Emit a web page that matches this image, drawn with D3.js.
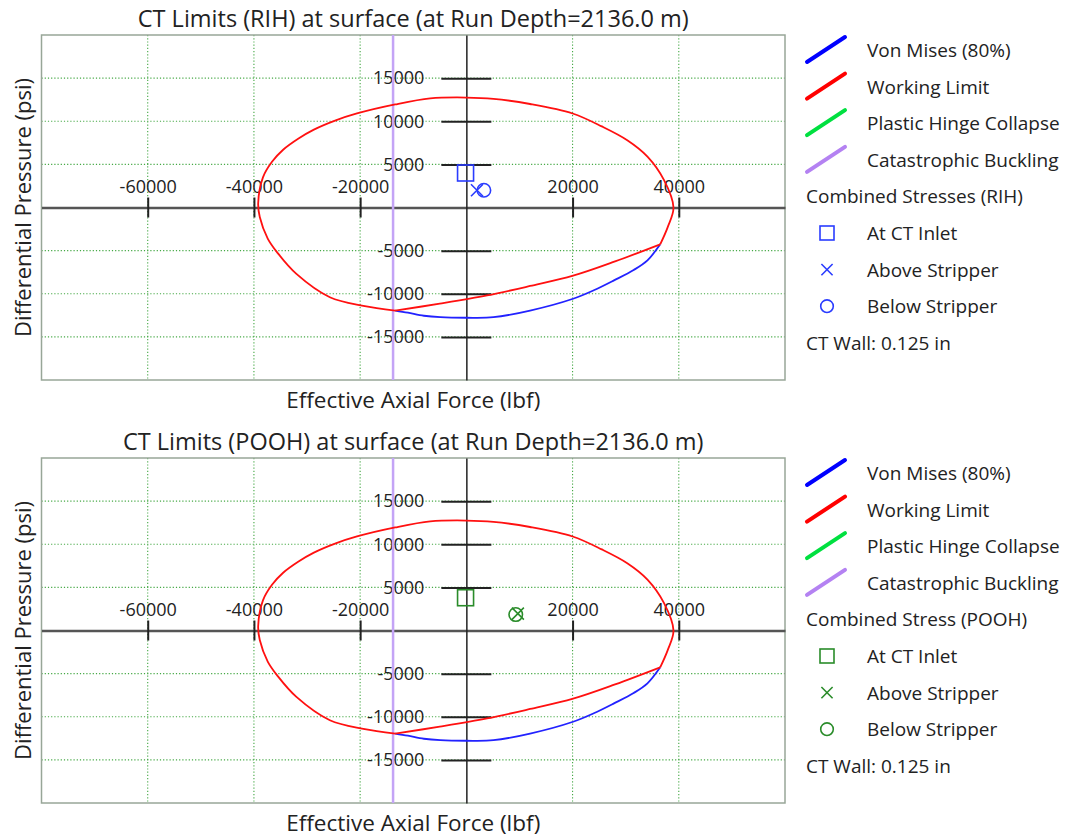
<!DOCTYPE html>
<html>
<head>
<meta charset="utf-8">
<script src="https://cdn.jsdelivr.net/npm/d3@7"></script>
<style>
  body { margin: 0; background: #fff; }
  text { font-family: "Open Sans", "Noto Sans", sans-serif; fill: #222; }
</style>
</head>
<body>
<svg id="chart" width="1067" height="836"></svg>
<script>
// Axis ranges and ticks
const xDomain = [-80000, 60000];          // effective axial force, lbf
const yDomain = [-20000, 20000];          // differential pressure, psi
const xTicks = [-60000, -40000, -20000, 20000, 40000];
const yTicks = [-15000, -10000, -5000, 5000, 10000, 15000];

// Catastrophic buckling force (vertical limit line), lbf
const bucklingForce = -13800;

// Working limit envelope: elliptical arc, running clockwise from the lower-left corner
const workingLimitArc = [
  [-13400, -11950], [-19400, -11400], [-25700, -10400], [-32000, -7700],
  [-35500, -5300], [-37400, -3600], [-38900, -1100], [-39200, 500],
  [-38300, 3500], [-36600, 5300], [-34500, 6700], [-31600, 8000],
  [-28800, 9000], [-24600, 10100], [-20600, 10900], [-13400, 11950],
  [-6800, 12650], [0, 12750], [5100, 12600], [12000, 12000],
  [20000, 10900], [25500, 9400], [30300, 7800], [34100, 5900],
  [37200, 3200], [39000, 0], [37900, -2300], [36500, -4270]
];
// Working limit envelope: lower cut-off from the right corner back to the lower-left corner
const workingLimitCut = [
  [36500, -4270], [28000, -6250], [20100, -7900], [12000, -9100],
  [3900, -10200], [-5000, -11150], [-13400, -11950]
];
// Von Mises (80%) lower arc, where it lies outside the working limit
const vonMises80 = [
  [-13400, -11950], [-11000, -12200], [-8000, -12550], [-4900, -12720],
  [0, -12780], [5100, -12720], [12000, -11950], [20100, -10580],
  [24000, -9600], [27800, -8450], [31500, -7250], [34100, -6130],
  [36500, -4270]
];

// Combined stresses at the surface
const stressLabels = ["At CT Inlet", "Above Stripper", "Below Stripper"];
const stressShapes = ["square", "cross", "circle"];
const rihForce = [-150, 2000, 3300];
const rihPressure = [4000, 2000, 2000];
const poohForce = [-150, 9700, 9300];
const poohPressure = [3800, 1950, 1850];

// Legend entries for the limit curves
const limitNames = ["Von Mises (80%)", "Working Limit", "Plastic Hinge Collapse", "Catastrophic Buckling"];
const limitColors = ["#0000ff", "#ff0000", "#00e040", "#b482f2"];

const panels = [
  { title: "CT Limits (RIH) at surface (at Run Depth=2136.0 m)",
    group: "Combined Stresses (RIH)", force: rihForce, pressure: rihPressure,
    color: "#2a3cff", top: 0 },
  { title: "CT Limits (POOH) at surface (at Run Depth=2136.0 m)",
    group: "Combined Stress (POOH)", force: poohForce, pressure: poohPressure,
    color: "#2a8c2a", top: 423 }
];

const svg = d3.select("#chart");
const plot = { left: 41.5, right: 785, top: 35, bottom: 380 };

const x = d3.scaleLinear().domain(xDomain).range([plot.left, plot.right]);
const y = d3.scaleLinear().domain(yDomain).range([plot.bottom, plot.top]);

const line = d3.line().x(d => x(d[0])).y(d => y(d[1])).curve(d3.curveCatmullRom.alpha(0.5));

function marker(sel, shape, cx, cy, color, size) {
  const h = size / 2;
  if (shape === "square") {
    sel.append("rect").attr("x", cx - h).attr("y", cy - h).attr("width", size).attr("height", size)
      .attr("fill", "none").attr("stroke", color).attr("stroke-width", 1.6);
  } else if (shape === "cross") {
    const k = h * 0.8;
    sel.append("path").attr("d", `M${cx - k},${cy - k}L${cx + k},${cy + k}M${cx - k},${cy + k}L${cx + k},${cy - k}`)
      .attr("fill", "none").attr("stroke", color).attr("stroke-width", 1.6);
  } else {
    sel.append("circle").attr("cx", cx).attr("cy", cy).attr("r", h * 0.9)
      .attr("fill", "none").attr("stroke", color).attr("stroke-width", 1.6);
  }
}

panels.forEach(p => {
  const g = svg.append("g").attr("transform", `translate(0,${p.top})`);

  // Title
  g.append("text").attr("x", (plot.left + plot.right) / 2).attr("y", 18)
    .attr("text-anchor", "middle").attr("dominant-baseline", "central")
    .style("font-size", "23.5px").text(p.title);

  // Grid
  const grid = g.append("g");
  grid.selectAll("line.v").data(xTicks).join("line")
    .attr("x1", d => x(d)).attr("x2", d => x(d)).attr("y1", plot.top).attr("y2", plot.bottom)
    .attr("stroke", "#45a845").attr("stroke-width", 1.1).attr("stroke-dasharray", "1.2,2");
  grid.selectAll("line.h").data(yTicks).join("line")
    .attr("x1", plot.left).attr("x2", plot.right).attr("y1", d => y(d)).attr("y2", d => y(d))
    .attr("stroke", "#45a845").attr("stroke-width", 1.1).attr("stroke-dasharray", "1.2,2");

  // Frame
  g.append("rect").attr("x", plot.left).attr("y", plot.top)
    .attr("width", plot.right - plot.left).attr("height", plot.bottom - plot.top)
    .attr("fill", "none").attr("stroke", "#98a698").attr("stroke-width", 1.5);

  // X axis through zero pressure, labels above the line
  const gx = g.append("g").attr("transform", `translate(0,${y(0)})`)
    .call(d3.axisTop(x).tickValues(xTicks).tickSize(0).tickSizeOuter(0).tickPadding(15)
      .tickFormat(d => String(d)));
  gx.select(".domain").attr("stroke", "#555").attr("stroke-width", 2.5);
  gx.selectAll(".tick line").attr("y1", -10).attr("y2", 10).attr("stroke", "#222").attr("stroke-width", 2);
  gx.selectAll(".tick text").style("font-size", "18px").attr("fill", "#222");

  // Y axis through zero force, labels left of the line
  const gy = g.append("g").attr("transform", `translate(${x(0)},0)`)
    .call(d3.axisLeft(y).tickValues(yTicks).tickSize(0).tickSizeOuter(0).tickPadding(42)
      .tickFormat(d => String(d)));
  gy.select(".domain").attr("stroke", "#222").attr("stroke-width", 1.5);
  gy.selectAll(".tick line").attr("x1", -25).attr("x2", 25).attr("stroke", "#222").attr("stroke-width", 2);
  gy.selectAll(".tick text").style("font-size", "18px").attr("fill", "#222");

  // Limit curves
  g.append("line").attr("x1", x(bucklingForce)).attr("x2", x(bucklingForce))
    .attr("y1", plot.top).attr("y2", plot.bottom)
    .attr("stroke", "#c4a4f6").attr("stroke-width", 2.5);
  g.append("path").attr("d", line(vonMises80)).attr("fill", "none")
    .attr("stroke", "#2222ff").attr("stroke-width", 1.8);
  g.append("path").attr("d", line(workingLimitArc)).attr("fill", "none")
    .attr("stroke", "#ff1010").attr("stroke-width", 1.8);
  g.append("path").attr("d", line(workingLimitCut)).attr("fill", "none")
    .attr("stroke", "#ff1010").attr("stroke-width", 1.8);

  // Combined stress points
  stressShapes.forEach((s, i) => {
    marker(g, s, x(p.force[i]), y(p.pressure[i]), p.color, s === "square" ? 16 : 15);
  });

  // Axis titles
  g.append("text").attr("x", (plot.left + plot.right) / 2).attr("y", 399)
    .attr("text-anchor", "middle").attr("dominant-baseline", "central")
    .style("font-size", "22.5px").text("Effective Axial Force (lbf)");
  g.append("text").attr("transform", `translate(22,${(plot.top + plot.bottom) / 2}) rotate(-90)`)
    .attr("text-anchor", "middle").attr("dominant-baseline", "central")
    .style("font-size", "22px").text("Differential Pressure (psi)");

  // Legend
  const lg = g.append("g");
  const rowY = i => 50 + i * 36.6;
  limitNames.forEach((name, i) => {
    const cy = rowY(i);
    lg.append("line").attr("x1", 807).attr("y1", cy + 12).attr("x2", 845).attr("y2", cy - 13)
      .attr("stroke", limitColors[i]).attr("stroke-width", 4).attr("stroke-linecap", "round");
    lg.append("text").attr("x", 867).attr("y", cy).attr("dominant-baseline", "central")
      .style("font-size", "19px").text(name);
  });
  lg.append("text").attr("x", 806).attr("y", rowY(4)).attr("dominant-baseline", "central")
    .style("font-size", "19px").text(p.group);
  stressLabels.forEach((name, i) => {
    const cy = rowY(5 + i);
    marker(lg, stressShapes[i], 827, cy, p.color, 14);
    lg.append("text").attr("x", 867).attr("y", cy).attr("dominant-baseline", "central")
      .style("font-size", "19px").text(name);
  });
  lg.append("text").attr("x", 806).attr("y", rowY(8)).attr("dominant-baseline", "central")
    .style("font-size", "19px").text("CT Wall: 0.125 in");
});
</script>
</body>
</html>
